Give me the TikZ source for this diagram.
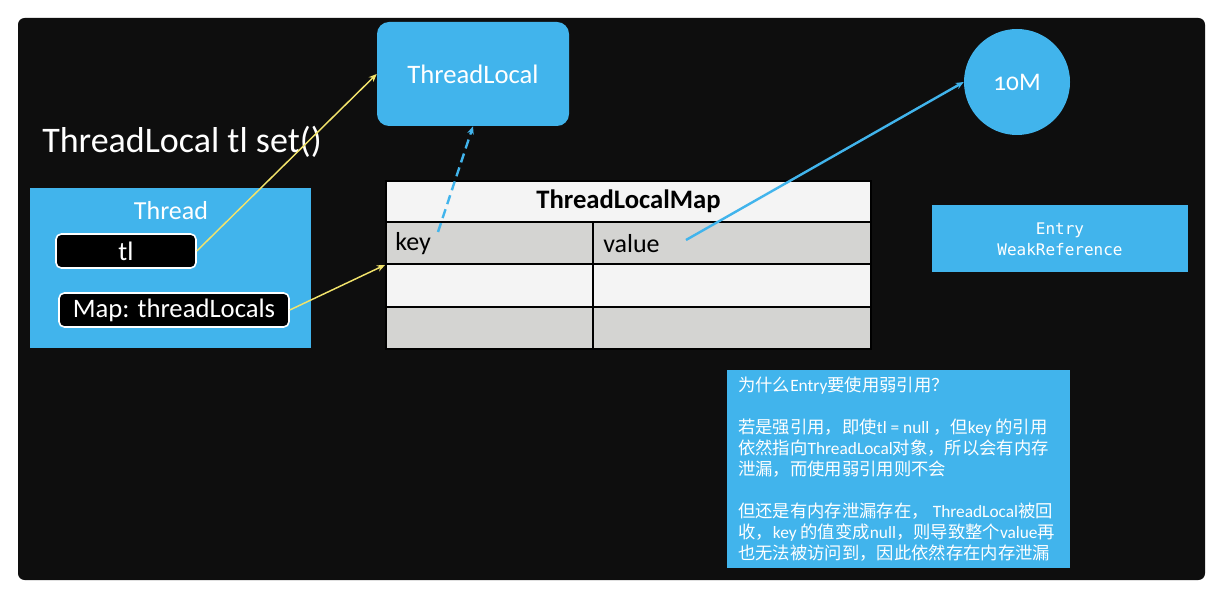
\documentclass[tikz,border=0pt]{standalone}
\usepackage{fontspec}
\setmainfont{Carlito}
\newfontfamily\cjk{Noto Sans CJK SC}
\newfontfamily\monof{DejaVu Sans Mono}
\newfontfamily\oldnum[Numbers=OldStyle]{Carlito}
\usetikzlibrary{arrows.meta}
\definecolor{panel}{HTML}{0E0E0E}
\definecolor{sky}{HTML}{41B4EC}
\definecolor{yel}{HTML}{F2E36B}
\definecolor{lgray}{HTML}{D4D4D2}
\definecolor{lwhite}{HTML}{F4F4F4}
\newcommand{\lat}[1]{{\normalfont #1}}
\begin{document}
\begin{tikzpicture}[x=0.75pt,y=-0.75pt,
  bluebox/.style={fill=sky,draw=none,text=white,inner sep=0pt},
  blackbox/.style={fill=black,draw=white,line width=1.2pt,rounded corners=4pt,text=white,inner sep=0pt,font=\fontsize{20}{24}\selectfont},
  cell/.style={draw=black,line width=1.5pt,inner sep=0pt,anchor=north west},
  yarrow/.style={draw=yel,line width=1.1pt,-{Stealth[length=6pt,width=5pt]}},
  barrow/.style={draw=sky,line width=1.8pt,-{Stealth[length=6pt,width=5pt]}}
]
\useasboundingbox (0,0) rectangle (1223,598);
\fill[white] (0,0) rectangle (1223,598);
\fill[panel, rounded corners=5pt] (18,18) rectangle (1205,580);

% title
\node[text=white,anchor=west,inner sep=0pt,font=\fontsize{27}{30}\selectfont] (title) at (42,142) {ThreadLocal tl set()};

% ThreadLocal box
\node[bluebox,rounded corners=9pt,minimum width={192*0.75pt},minimum height={104*0.75pt},font=\fontsize{20}{24}\selectfont] (tlocal) at (473,74) {ThreadLocal};

% 10M circle
\node[bluebox,circle,minimum size={106*0.75pt},font=\oldnum\fontsize{19}{22}\selectfont] (mem) at (1017,82) {10M};

% Entry box
\node[bluebox,minimum width={256*0.75pt},minimum height={67*0.75pt},align=center,font=\monof\fontsize{12}{15.75}\selectfont] (entry) at (1060,239) {Entry\\WeakReference};

% Thread box
\node[bluebox,minimum width={281*0.75pt},minimum height={160*0.75pt}] (thread) at (170.5,268) {};
\node[text=white,inner sep=0pt,font=\fontsize{19.5}{24}\selectfont] (threadlbl) at (171,211) {Thread};
\node[blackbox,minimum width={140*0.75pt},minimum height={34*0.75pt}] (tl) at (126,251) {tl};
\node[blackbox,minimum width={230*0.75pt},minimum height={34*0.75pt}] (map) at (174,310) {Map: threadLocals};

% table
\node[cell,fill=lwhite,minimum width={485*0.75pt},minimum height={41*0.75pt},font=\bfseries\fontsize{20}{24}\selectfont] (hdr) at (385,180) {ThreadLocalMap};
\node[cell,fill=lgray,minimum width={207*0.75pt},minimum height={42*0.75pt}] (c11) at (385,221) {};
\node[cell,fill=lgray,minimum width={278*0.75pt},minimum height={42*0.75pt}] (c12) at (592,221) {};
\node[cell,fill=lwhite,minimum width={207*0.75pt},minimum height={43*0.75pt}] (c21) at (385,263) {};
\node[cell,fill=lwhite,minimum width={278*0.75pt},minimum height={43*0.75pt}] (c22) at (592,263) {};
\node[cell,fill=lgray,minimum width={207*0.75pt},minimum height={42*0.75pt}] (c31) at (385,306) {};
\node[cell,fill=lgray,minimum width={278*0.75pt},minimum height={42*0.75pt}] (c32) at (592,306) {};
\node[anchor=west,inner sep=0pt,font=\fontsize{19.5}{24}\selectfont] (key) at (395,244) {key};
\node[anchor=west,inner sep=0pt,font=\fontsize{19.5}{24}\selectfont] (val) at (603,244) {value};
\coordinate (kstart) at (438,232);
\coordinate (vstart) at (686,240);

% arrows
\draw[yarrow] (tl.east) -- (tlocal.west);
\draw[yarrow] (map.east) -- (c11.south west);
\draw[barrow,dashed,dash pattern=on 7pt off 4pt] (kstart) -- (tlocal.south);
\draw[barrow] (vstart) -- (mem.west);

% note
\node[bluebox,anchor=north west,minimum width={343*0.75pt},minimum height={198*0.75pt}] (note) at (727,370) {};
\node[anchor=north west,inner sep=0pt,text=white,align=left,font=\cjk\fontsize{13}{15.75}\selectfont] (notetext) at (738,377)
{为什么\lat{Entry}要使用弱引用？\\[15.75pt]
若是强引用，即使\lat{tl = null} ，但\lat{key} 的引用\\
依然指向\lat{ThreadLocal}对象，所以会有内存\\
泄漏，而使用弱引用则不会\\[15.75pt]
但还是有内存泄漏存在， \lat{ThreadLocal}被回\\
收，\lat{key} 的值变成\lat{null}，则导致整个\lat{value}再\\
也无法被访问到，因此依然存在内存泄漏};
\end{tikzpicture}
\end{document}
